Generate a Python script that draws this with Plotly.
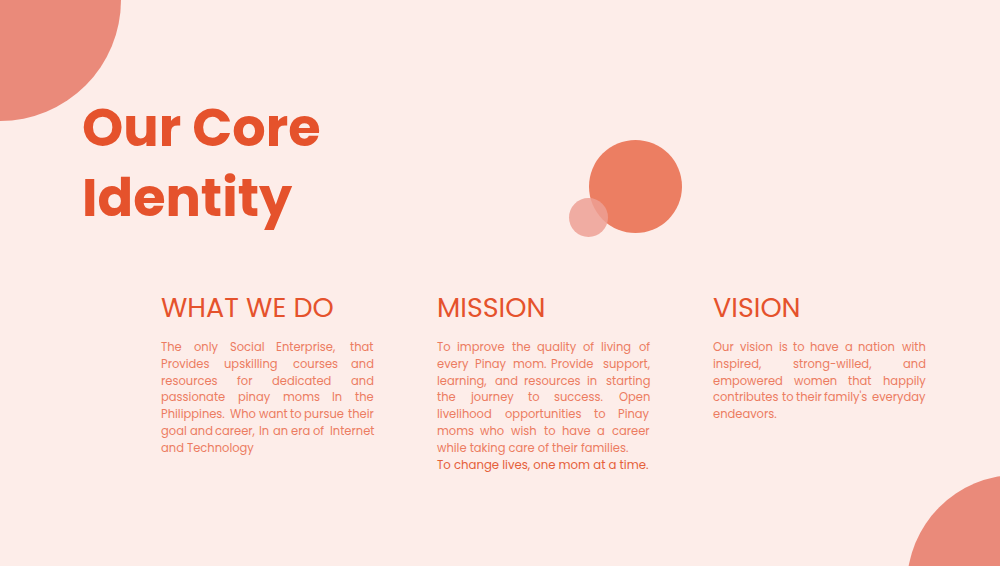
import plotly.graph_objects as go

# slide content
title_lines = ["Our Core", "Identity"]
headings = ["WHAT WE DO", "MISSION", "VISION"]

what_we_do_lines = [
    "The only Social Enterprise, that",
    "Provides upskilling courses and",
    "resources for dedicated and",
    "passionate pinay moms In the",
    "Philippines. Who want to pursue their",
    "goal and career, In an era of Internet",
    "and Technology",
]
mission_lines = [
    "To improve the quality of living of",
    "every Pinay mom. Provide support,",
    "learning, and resources in starting",
    "the journey to success. Open",
    "livelihood opportunities to Pinay",
    "moms who wish to have a career",
    "while taking care of their families.",
]
mission_tagline = "To change lives, one mom at a time."
vision_lines = [
    "Our vision is to have a nation with",
    "inspired, strong-willed, and",
    "empowered women that happily",
    "contributes to their family's everyday",
    "endeavors.",
]

BG = "#FDEDE9"
TITLE_COLOR = "#E5522C"
BODY_COLOR = "#EC7C61"
TAG_COLOR = "#E5603A"
FONT = "Poppins, Inter, sans-serif"

W, H = 1000, 566
col_x = [161, 437, 713]
col_w = 213
body_size = 11.5
line_gap = 16.9
body_top = 346.7
pad = 2  # annotation box padding in px

# approximate Poppins advance widths (em)
char_em = {
    " ": .26, ".": .23, ",": .23, "'": .2, "-": .44,
    "a": .64, "b": .64, "c": .57, "d": .64, "e": .6, "f": .35, "g": .64,
    "h": .62, "i": .26, "j": .26, "k": .54, "l": .26, "m": .95, "n": .62,
    "o": .61, "p": .64, "q": .64, "r": .38, "s": .5, "t": .37, "u": .62,
    "v": .55, "w": .83, "x": .53, "y": .55, "z": .47,
    "T": .58, "P": .64, "W": .97, "O": .78, "I": .28, "S": .58, "E": .56,
    "M": .88, "C": .72,
}


def text_width(s, size):
    return sum(char_em.get(ch, .65) for ch in s) * size * 1.06


fig = go.Figure()
fig.add_trace(go.Scatter(x=[0, W], y=[0, H], mode="markers",
                         marker=dict(opacity=0), hoverinfo="skip", showlegend=False))

# decorative circles
fig.add_shape(type="circle", x0=-121, y0=-121, x1=121, y1=121,
              fillcolor="#EA8A7A", line_width=0, layer="below")
fig.add_shape(type="circle", x0=1017 - 110, y0=585 - 110, x1=1017 + 110, y1=585 + 110,
              fillcolor="#EA8A7A", line_width=0, layer="below")
fig.add_shape(type="circle", x0=589, y0=140, x1=682, y1=233,
              fillcolor="#EC7E62", line_width=0, layer="below")
fig.add_shape(type="circle", x0=569, y0=198, x1=608, y1=237,
              fillcolor="#EDA094", opacity=0.84, line_width=0, layer="below")

# title
for i, t in enumerate(title_lines):
    fig.add_annotation(x=80, y=127 + 70 * i, text=t, xanchor="left", yanchor="middle",
                       showarrow=False, font=dict(family=FONT, size=52.5, color=TITLE_COLOR,
                                                  weight="bold"))

# headings
for x, h in zip(col_x, headings):
    fig.add_annotation(x=x - 2, y=307, text=h, xanchor="left", yanchor="middle",
                       showarrow=False, font=dict(family=FONT, size=27, color=TITLE_COLOR))


def add_paragraph(x0, lines, size=body_size, color=BODY_COLOR):
    for k, line in enumerate(lines):
        y = body_top + line_gap * k
        words = line.split()
        font = dict(family=FONT, size=size, color=color)
        if k == len(lines) - 1 or len(words) == 1:
            fig.add_annotation(x=x0 - pad, y=y, text=line, xanchor="left", yanchor="middle",
                               showarrow=False, font=font)
            continue
        # justified line: spread words across the column width
        widths = [text_width(w, size) for w in words]
        gap = (col_w - sum(widths)) / (len(words) - 1)
        pos = x0
        for j, (w, ww) in enumerate(zip(words, widths)):
            if j == len(words) - 1:
                fig.add_annotation(x=x0 + col_w + pad, y=y, text=w, xanchor="right",
                                   yanchor="middle", showarrow=False, font=font)
            else:
                fig.add_annotation(x=pos - pad, y=y, text=w, xanchor="left",
                                   yanchor="middle", showarrow=False, font=font)
            pos += ww + gap


add_paragraph(col_x[0], what_we_do_lines)
add_paragraph(col_x[1], mission_lines)
add_paragraph(col_x[2], vision_lines)
fig.add_annotation(x=col_x[1] - pad, y=body_top + line_gap * len(mission_lines),
                   text=mission_tagline, xanchor="left", yanchor="middle", showarrow=False,
                   font=dict(family=FONT, size=11.7, color=TAG_COLOR))

fig.update_xaxes(range=[0, W], visible=False, fixedrange=True)
fig.update_yaxes(range=[H, 0], visible=False, fixedrange=True)
fig.update_layout(width=W, height=H, margin=dict(l=0, r=0, t=0, b=0),
                  paper_bgcolor=BG, plot_bgcolor=BG, showlegend=False)

fig.write_html("out.html", config={"displayModeBar": False},
               post_script="document.body.style.margin='0';"
                           "document.body.style.background='%s';" % BG)
